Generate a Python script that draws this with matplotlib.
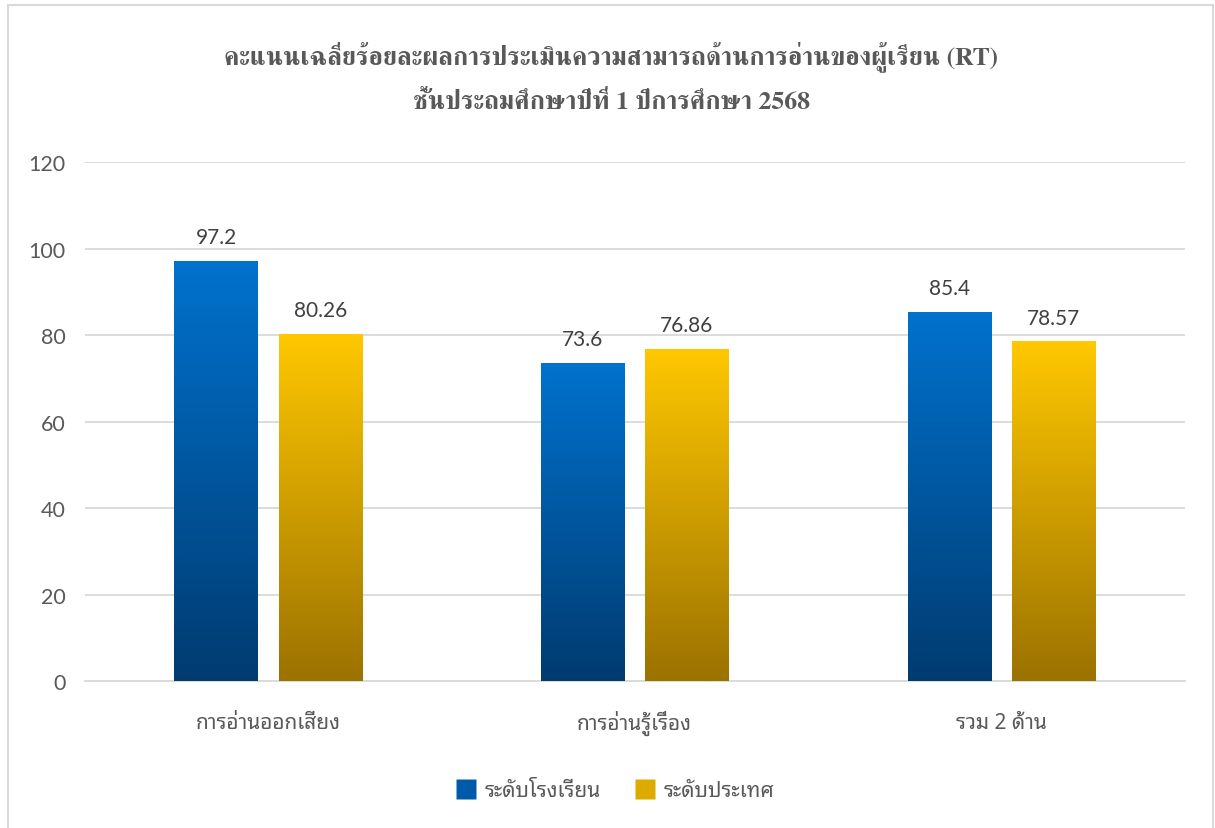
import numpy as np
import matplotlib
matplotlib.use('Agg')
import matplotlib.pyplot as plt
from matplotlib.patches import Rectangle
from matplotlib.colors import LinearSegmentedColormap
from matplotlib.lines import Line2D

# ── fonts / colours ───────────────────────────────────────────────────────────
THAI = ['Noto Sans Thai Looped', 'DejaVu Sans']
NUM = ['Lato', 'Noto Sans Thai Looped', 'DejaVu Sans']
TITLE = ['FreeSerif', 'DejaVu Serif']
TXT = '#595959'
GRID = '#D9D9D9'

# ── data ──────────────────────────────────────────────────────────────────────
categories = ['การอ่านออกเสียง', 'การอ่านรู้เรื่อง', 'รวม 2 ด้าน']
school = [97.2, 73.6, 85.4]
nation = [80.26, 76.86, 78.57]
labels_school = ['97.2', '73.6', '85.4']
labels_nation = ['80.26', '76.86', '78.57']
series_names = ['ระดับโรงเรียน', 'ระดับประเทศ']
title_text = ('คะแนนเฉลี่ยร้อยละผลการประเมินความสามารถด้านการอ่านของผู้เรียน (RT)\n'
              'ชั้นประถมศึกษาปีที่ 1 ปีการศึกษา 2568')

blue_cmap = LinearSegmentedColormap.from_list('b', ['#003B70', '#0072CE'])
gold_cmap = LinearSegmentedColormap.from_list('g', ['#9C7200', '#FFC800'])

fig = plt.figure(figsize=(12.15, 8.29), dpi=100)
ax = fig.add_axes([0.070, 0.177, 0.905, 0.626])

x = np.arange(len(categories))
w = 0.228
off = 0.142


def grad_bars(xs, vals, cmap):
    # each bar gets its own top-to-bottom gradient, like the Excel fill
    bars = ax.bar(xs, vals, w, color='none', edgecolor='none', zorder=3)
    grad = np.linspace(0, 1, 256).reshape(-1, 1)
    for b in bars:
        x0 = b.get_x()
        im = ax.imshow(grad, cmap=cmap, origin='lower', aspect='auto',
                       extent=[x0, x0 + b.get_width(), 0, b.get_height()], zorder=3)
        im.set_clip_path(b)
    return bars


grad_bars(x - off, school, blue_cmap)
grad_bars(x + off, nation, gold_cmap)

for xs, vals, labs in [(x - off, school, labels_school), (x + off, nation, labels_nation)]:
    for xi, v, lab in zip(xs, vals, labs):
        ax.annotate(lab, (xi, v), xytext=(0, 10), textcoords='offset points',
                    ha='center', va='bottom', fontsize=15, color='#404040', family=NUM)

ax.set_xlim(-0.5, 2.5)
ax.set_ylim(0, 120)
ax.set_yticks(np.arange(0, 121, 20))
ax.set_xticks(x)
ax.set_xticklabels(categories, family=THAI, fontsize=15, color=TXT)
for t in ax.get_xticklabels():
    t.set_va('baseline')
for t in ax.get_yticklabels():
    t.set_family(NUM)
    t.set_fontsize(15.5)
    t.set_color(TXT)
ax.tick_params(length=0, pad=14)
ax.tick_params(axis='x', pad=34)
ax.grid(axis='y', color=GRID, lw=1.3, zorder=0)
ax.set_axisbelow(True)
for s in ['top', 'right', 'left']:
    ax.spines[s].set_visible(False)
ax.spines['bottom'].set_color(GRID)
ax.spines['bottom'].set_linewidth(1.3)

fig.text(0.503, 0.906, title_text, ha='center', va='center', family=TITLE,
         fontweight='bold', fontsize=18.5, color=TXT, linespacing=2.05)

# legend
handles = [Line2D([], [], marker='s', ls='none', ms=14, mfc='#005AA8', mec='none'),
           Line2D([], [], marker='s', ls='none', ms=14, mfc='#DDAA00', mec='none')]
fig.legend(handles, series_names, loc='center', bbox_to_anchor=(0.506, 0.045),
           ncol=2, frameon=False, prop={'family': THAI, 'size': 15},
           labelcolor=TXT, handlelength=1.0, handletextpad=0.4, columnspacing=1.6)

# chart border
fig.patches.append(Rectangle((0.0066, -0.02), 0.9914, 1.0128, transform=fig.transFigure,
                             fill=False, edgecolor=GRID, lw=1.5))

fig.savefig('out.png', dpi=100)
